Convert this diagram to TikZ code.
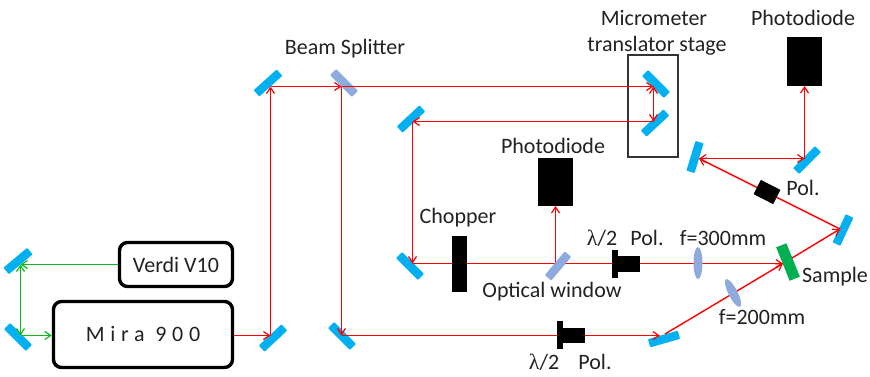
\documentclass[tikz,border=0pt]{standalone}
\usepackage{fontspec}
\setmainfont{Carlito}
\newfontfamily\lamfont{Liberation Serif}
\usetikzlibrary{arrows.meta,shapes.geometric}
\definecolor{mirrorblue}{HTML}{00B0F0}
\definecolor{splitblue}{HTML}{8FAADC}
\definecolor{samplegreen}{HTML}{00B050}
\definecolor{beamgreen}{HTML}{10B820}
\definecolor{txt}{HTML}{222222}
\tikzset{
  mirror/.style={fill=mirrorblue,inner sep=0pt,minimum width=31pt,minimum height=8.5pt,rounded corners=0.8pt},
  splitter/.style={mirror,fill=splitblue},
  blackbox/.style={fill=black,inner sep=0pt},
  lensshape/.style={ellipse,fill=splitblue,inner sep=0pt},
  laser/.style={draw=black,line width=3.4pt,rounded corners=8pt,inner sep=0pt,font=\fontsize{22}{24}\selectfont,text=txt},
  lbl/.style={font=\fontsize{22}{24}\selectfont,text=txt,inner sep=0pt},
  red beam/.style={draw=red,line width=1.4pt,-{Straight Barb[length=6pt,width=8pt,line width=1.2pt]}},
  red both/.style={red beam,{Straight Barb[length=6pt,width=8pt,line width=1.2pt]}-{Straight Barb[length=6pt,width=8pt,line width=1.2pt]}},
  green beam/.style={draw=beamgreen,line width=1.4pt,-{Straight Barb[length=6pt,width=8pt,line width=1.2pt]}},
  green both/.style={green beam,{Straight Barb[length=6pt,width=8pt,line width=1.2pt]}-{Straight Barb[length=6pt,width=8pt,line width=1.2pt]}},
}
\begin{document}
\begin{tikzpicture}[x=1pt,y=-1pt]
\useasboundingbox (0,0) rectangle (870,376);
% stage frame
\node[draw=black!80,line width=1.2pt,minimum width=50pt,minimum height=102pt,inner sep=0pt] (stage) at (653,106) {};
% mirrors
\node[mirror,rotate=40] (g1) at (18,261) {};
\node[mirror,rotate=-45] (g2) at (18,337) {};
\node[mirror,rotate=43] (m3) at (273,338) {};
\node[mirror,rotate=42] (m4) at (268,83) {};
\node[splitter,rotate=-45] (bs) at (344,83) {};
\node[mirror,rotate=-45] (m5) at (342,336) {};
\node[mirror,rotate=43] (m6) at (411,119) {};
\node[mirror,rotate=-45] (m7) at (410,266) {};
\node[mirror,rotate=16] (m8) at (664,339) {};
\node[mirror,rotate=65] (m9) at (843,230) {};
\node[mirror,rotate=73] (m10) at (695,157) {};
\node[mirror,rotate=45] (m11) at (807,160) {};
\node[mirror,rotate=-45] (s1) at (656,84) {};
\node[mirror,rotate=43] (s2) at (655,123) {};
\node[fill=samplegreen,inner sep=0pt,minimum width=36pt,minimum height=11pt,rotate=-68] (sample) at (788,262) {};
% laser boxes
\node[laser,minimum width=113pt,minimum height=44pt] (verdi) at (176,264.5) {Verdi V10};
\node[laser,minimum width=179pt,minimum height=66pt] (mira) at (143,334.5) {\addfontfeature{LetterSpace=26}Mira 900};
% beam points
\coordinate (gA) at (20.5,264.5);
\coordinate (gB) at (20.5,335.5);
\coordinate (rA) at (270.5,335.5);
\coordinate (rB) at (270.5,86.5);
\coordinate (rC) at (341.5,86.5);
\coordinate (rD) at (341.5,335.5);
\coordinate (rE) at (660,335.5);
\coordinate (rF) at (665,334);
\coordinate (rG) at (783,263.5);
\coordinate (rH) at (792,258);
\coordinate (rI) at (840,229);
\coordinate (rJ) at (699,158.5);
\coordinate (rK) at (804.5,158.5);
\coordinate (rL) at (804.5,86);
\coordinate (rM) at (653.5,86.5);
\coordinate (rN) at (653.5,121.5);
\coordinate (rO) at (412.5,121.5);
\coordinate (rP) at (412.5,263.5);
\coordinate (rQ) at (555.5,263.5);
\coordinate (rR) at (555.5,206);
% beams
\draw[green beam] (verdi.west |- gA) -- (gA);
\draw[green both] (gA) -- (gB);
\draw[green beam] (gB) -- (mira.west |- gB);
\draw[red beam] (mira.east |- rA) -- (rA);
\draw[red beam] (rA) -- (rB);
\draw[red beam] (rB) -- (rC);
\draw[red beam] (rC) -- (rD);
\draw[red beam] (rD) -- (rE);
\draw[red beam] (rF) -- (rG);
\draw[red beam] (rH) -- (rI);
\draw[red beam] (rI) -- (rJ);
\draw[red both] (rJ) -- (rK);
\draw[red beam] (rK) -- (rL);
\draw[red beam] (rC) -- (rM);
\draw[red both] (rM) -- (rN);
\draw[red beam] (rN) -- (rO);
\draw[red beam] (rO) -- (rP);
\draw[red beam] (rP) -- (rG);
\draw[red beam] (rQ) -- (rR);
% elements on top of beams
\node[splitter,rotate=50] (win) at (558,266) {};
\node[blackbox,minimum width=15pt,minimum height=56pt] (chop) at (459.5,264) {};
\node[blackbox,minimum width=35pt,minimum height=48pt] (pd1) at (555.5,182) {};
\node[blackbox,minimum width=35pt,minimum height=49pt] (pd2) at (804.5,61.5) {};
\node[blackbox,minimum width=6pt,minimum height=28pt] (p1a) at (615,264) {};
\node[blackbox,minimum width=22pt,minimum height=16pt] (p1b) at (629,264) {};
\node[blackbox,minimum width=6pt,minimum height=28pt] (p2a) at (559.5,335) {};
\node[blackbox,minimum width=23pt,minimum height=15pt] (p2b) at (573.5,335.5) {};
\node[blackbox,minimum width=22pt,minimum height=16pt,rotate=-27] (p3) at (767,192) {};
\node[lensshape,minimum width=9pt,minimum height=32pt] (l1) at (698,263) {};
\node[lensshape,minimum width=9pt,minimum height=31pt,rotate=27] (l2) at (733,293) {};
% labels
\node[lbl] (t1) at (654,18) {Micrometer};
\node[lbl] (t2) at (657,45.5) {translator stage};
\node[lbl] (t3) at (803,18) {Photodiode};
\node[lbl] (t4) at (345,49) {Beam Splitter};
\node[lbl] (t5) at (553,146) {Photodiode};
\node[lbl] (t6) at (458,218) {Chopper};
\node[lbl] (t7) at (602,238) {{\lamfont λ}/2};
\node[lbl] (t8) at (647,238) {Pol.};
\node[lbl] (t9) at (723,238) {f=300mm};
\node[lbl] (t10) at (552,292) {Optical window};
\node[lbl] (t11) at (544,362) {{\lamfont λ}/2};
\node[lbl] (t12) at (595,362) {Pol.};
\node[lbl] (t13) at (762,317) {f=200mm};
\node[lbl] (t14) at (835,277) {Sample};
\node[lbl] (t15) at (803,188) {Pol.};
\end{tikzpicture}
\end{document}
